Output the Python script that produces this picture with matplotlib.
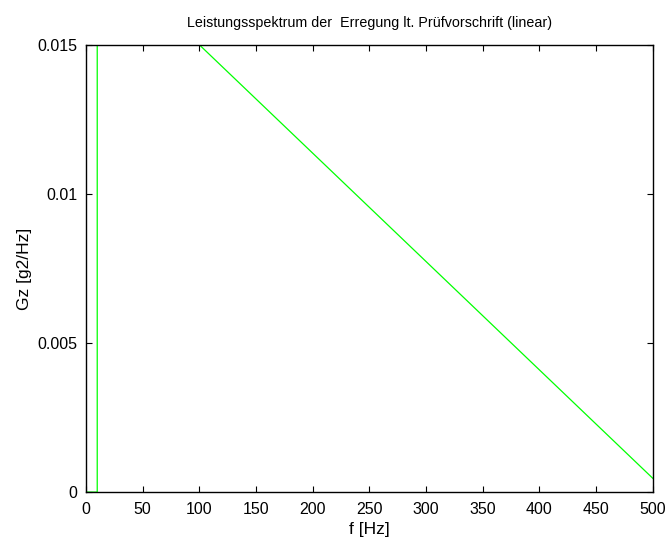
import matplotlib
matplotlib.use("Agg")
import matplotlib.pyplot as plt

# Excitation power spectral density breakpoints
freq_hz = [0, 10, 10, 100, 500]
psd_g2hz = [0.0, 0.0, 0.015, 0.015, 0.00046]

x_ticks = [0, 50, 100, 150, 200, 250, 300, 350, 400, 450, 500]
y_ticks = [0, 0.005, 0.01, 0.015]
y_tick_labels = ["0", "0.005", "0.01", "0.015"]

plt.rcParams["font.family"] = ["Liberation Sans", "DejaVu Sans"]

fig = plt.figure(figsize=(6.71, 5.39), dpi=100)
ax = fig.add_axes([0.128, 0.087, 0.845, 0.830])

ax.plot(freq_hz, psd_g2hz, color="#00ff00", linewidth=0.9)

ax.set_xlim(0, 500)
ax.set_ylim(0, 0.015)
ax.set_xticks(x_ticks)
ax.set_xticklabels([str(t) for t in x_ticks])
ax.set_yticks(y_ticks)
ax.set_yticklabels(y_tick_labels)
ax.tick_params(direction="in", top=True, right=True, length=4,
               labelsize=11.5, width=0.8)
ax.tick_params(axis="x", pad=7)
ax.tick_params(axis="y", pad=6)
for side in ax.spines.values():
    side.set_linewidth(1.0)

ax.set_title("Leistungsspektrum der  Erregung lt. Prüfvorschrift (linear)",
             fontsize=10.3, pad=13)
ax.set_xlabel("f [Hz]", fontsize=12.5, labelpad=4)
ax.set_ylabel("Gz [g2/Hz]", fontsize=12.5, labelpad=4)

fig.savefig("out.png", dpi=100)
